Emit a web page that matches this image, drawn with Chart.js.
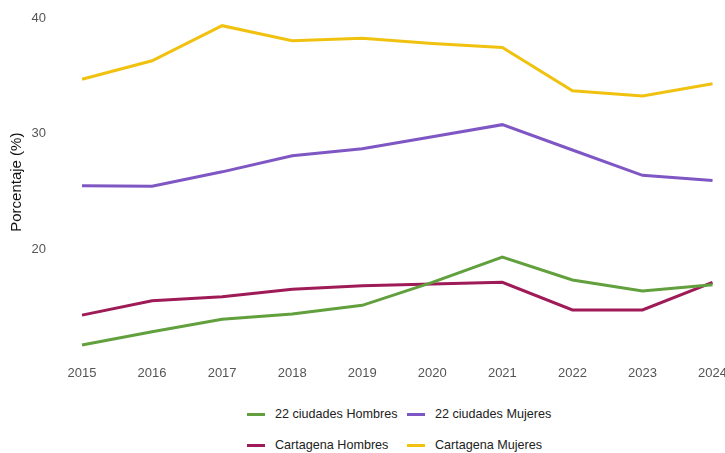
<!DOCTYPE html>
<html>
<head>
<meta charset="utf-8">
<script src="https://cdn.jsdelivr.net/npm/chart.js@4/dist/chart.umd.min.js"></script>
<style>
  body { margin: 0; background: #fff; font-family: "Liberation Sans", Arial, sans-serif; overflow: hidden; }
  #wrap { position: relative; width: 725px; height: 453px; overflow: hidden; }
  #chartBox { position: absolute; left: 0; top: 0; width: 733px; height: 387px; }
  #legend { position: absolute; left: 247px; top: 405px; display: grid;
    grid-template-columns: 160px 160px; row-gap: 13px; font-size: 12.6px; color: #222; }
  .item { display: flex; align-items: center; height: 18px; }
  .sw { width: 18px; height: 3px; margin-right: 10px; }
</style>
</head>
<body>
<div id="wrap">
  <div id="chartBox"><canvas id="lineChart"></canvas></div>
  <div id="legend"></div>
</div>
<script>
const years = ['2015', '2016', '2017', '2018', '2019', '2020', '2021', '2022', '2023', '2024'];
const ciudadesHombres = [11.65, 12.8, 13.9, 14.35, 15.1, 17.1, 19.3, 17.3, 16.35, 16.9];
const ciudadesMujeres = [25.5, 25.45, 26.7, 28.1, 28.7, 29.75, 30.8, 28.6, 26.4, 25.95];
const cartagenaHombres = [14.25, 15.5, 15.85, 16.5, 16.8, 16.95, 17.1, 14.7, 14.7, 17.1];
const cartagenaMujeres = [34.75, 36.35, 39.4, 38.1, 38.3, 37.85, 37.5, 33.75, 33.3, 34.35];
const yTicks = [20, 30, 40];

const series = [
  { label: '22 ciudades Hombres', data: ciudadesHombres, color: '#62a03e' },
  { label: '22 ciudades Mujeres', data: ciudadesMujeres, color: '#7f57c4' },
  { label: 'Cartagena Hombres', data: cartagenaHombres, color: '#9e1b57' },
  { label: 'Cartagena Mujeres', data: cartagenaMujeres, color: '#f0c20f' }
];

// legend in two rows, like the original
const legend = document.getElementById('legend');
series.forEach(s => {
  const it = document.createElement('div');
  it.className = 'item';
  it.innerHTML = '<span class="sw" style="background:' + s.color + '"></span><span>' + s.label + '</span>';
  legend.appendChild(it);
});

new Chart(document.getElementById('lineChart'), {
  type: 'line',
  data: {
    labels: years,
    datasets: series.map(s => ({
      label: s.label,
      data: s.data,
      borderColor: s.color,
      backgroundColor: s.color,
      borderWidth: 3,
      pointRadius: 0,
      tension: 0,
      fill: false
    }))
  },
  options: {
    responsive: true,
    maintainAspectRatio: false,
    animation: false,
    layout: { padding: { top: 13 } },
    plugins: { legend: { display: false }, tooltip: { enabled: false } },
    scales: {
      x: {
        offset: false,
        grid: { display: false },
        border: { display: false },
        ticks: { color: '#555', font: { size: 13, family: 'Liberation Sans' }, padding: 6, maxRotation: 0 }
      },
      y: {
        min: 11.1,
        max: 40.5,
        afterBuildTicks: axis => { axis.ticks = yTicks.map(v => ({ value: v })); },
        afterFit: axis => { axis.width = 82; },
        grid: { display: false, tickLength: 36 },
        border: { display: false },
        ticks: { color: '#555', font: { size: 13, family: 'Liberation Sans' }, padding: 0 },
        title: { display: true, text: 'Porcentaje (%)', color: '#111', font: { size: 15, family: 'Liberation Sans' }, padding: { top: 8, bottom: 0 } }
      }
    }
  }
});
</script>
</body>
</html>
